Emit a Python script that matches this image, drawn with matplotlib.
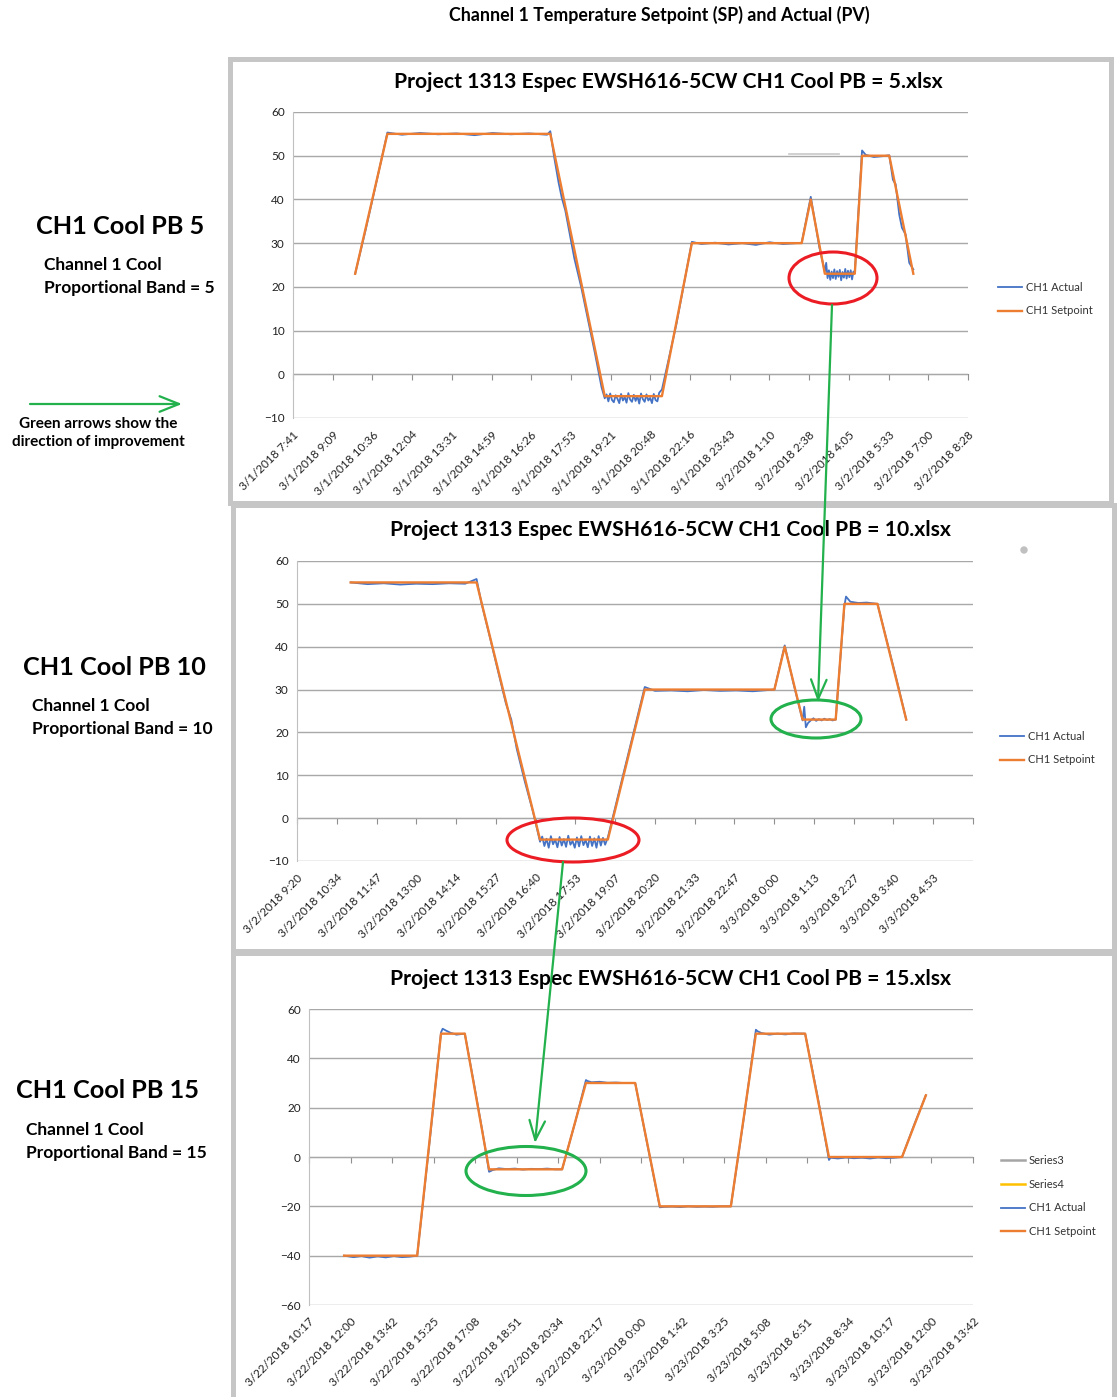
import matplotlib
matplotlib.use('Agg')
import matplotlib.pyplot as plt
from matplotlib.patches import Ellipse, Rectangle, FancyArrowPatch, Circle
from matplotlib.lines import Line2D

plt.rcParams['font.family'] = ['Lato', 'DejaVu Sans']

# times are minutes after the first x-axis label of each chart

# ---- chart 1 : CH1 Cool PB = 5 ----
p1_labels = ['3/1/2018 7:41', '3/1/2018 9:09', '3/1/2018 10:36', '3/1/2018 12:04',
             '3/1/2018 13:31', '3/1/2018 14:59', '3/1/2018 16:26', '3/1/2018 17:53',
             '3/1/2018 19:21', '3/1/2018 20:48', '3/1/2018 22:16', '3/1/2018 23:43',
             '3/2/2018 1:10', '3/2/2018 2:38', '3/2/2018 4:05', '3/2/2018 5:33',
             '3/2/2018 7:00', '3/2/2018 8:28']
p1_step = 87.5
sp1_t = [137, 208, 567, 687, 813, 879, 1121, 1141, 1172, 1238, 1254, 1314, 1367]
sp1_v = [23, 55, 55, -5, -5, 30, 30, 40, 23, 23, 50, 50, 23]
pv1_t = [137, 160, 185, 208, 240, 280, 320, 360, 400, 440, 480, 520, 560, 567,
         575, 585, 592, 600, 610, 620, 635, 650, 665, 680, 687,
         691, 695, 699, 703, 707, 711, 715, 719, 723, 727, 731, 735, 739, 743, 747,
         751, 755, 759, 763, 767, 771, 775, 779, 783, 787, 791, 795, 799, 803, 807,
         813, 845, 879, 900, 930, 960, 990, 1020, 1050, 1080, 1110, 1121, 1141,
         1160, 1172, 1175, 1178,
         1181, 1184, 1187, 1190, 1193, 1196, 1199, 1202, 1205, 1208, 1211, 1214,
         1217, 1220, 1223, 1226, 1229, 1232, 1235,
         1238, 1254, 1262, 1280, 1300, 1314,
         1322, 1328, 1336, 1342, 1350, 1358, 1367]
pv1_v = [23, 33, 44.5, 55.3, 54.8, 55.2, 54.9, 55.1, 54.7, 55.2, 54.9, 55.1, 54.8, 55.6,
         50, 44, 40.5, 37.5, 32, 26.5, 20, 12.5, 5, -3, -5.5,
         -4.6, -6.2, -4.4, -5.9, -6.4, -4.8, -5.6, -6.6, -4.5, -6.0, -5.2, -6.5, -4.3, -5.8, -6.3,
         -4.7, -6.1, -5.0, -6.7, -4.4, -5.7, -6.3, -4.6, -6.0, -5.4, -6.6, -4.5, -5.9, -6.2, -4.2,
         -3.5, 11.5, 30.3, 29.8, 30.1, 29.7, 30.0, 29.6, 30.2, 29.8, 30.0, 30.1, 40.6,
         29.0, 23.5, 25.5, 22.0,
         23.8, 21.6, 23.5, 22.0, 24.0, 21.8, 23.6, 22.3, 23.9, 21.5, 23.4, 22.1,
         24.1, 21.9, 23.7, 22.2, 23.8, 21.7, 23.5,
         23.2, 51.2, 50.2, 49.7, 49.9, 50.1,
         44.5, 43.5, 36.5, 33.5, 32, 25.5, 24]
stray1_t = [1094, 1203]
stray1_v = [50.3, 50.3]

# ---- chart 2 : CH1 Cool PB = 10 ----
p2_labels = ['3/2/2018 9:20', '3/2/2018 10:34', '3/2/2018 11:47', '3/2/2018 13:00',
             '3/2/2018 14:14', '3/2/2018 15:27', '3/2/2018 16:40', '3/2/2018 17:53',
             '3/2/2018 19:07', '3/2/2018 20:20', '3/2/2018 21:33', '3/2/2018 22:47',
             '3/3/2018 0:00', '3/3/2018 1:13', '3/3/2018 2:27', '3/3/2018 3:40',
             '3/3/2018 4:53', '']
p2_step = 73.3
sp2_t = [99, 331, 448, 573, 641, 880, 899, 932, 993, 1009, 1070, 1123]
sp2_v = [55, 55, -5, -5, 30, 30, 40, 23, 23, 50, 50, 23]
pv2_t = [99, 130, 160, 190, 220, 250, 280, 310, 331,
         340, 355, 370, 385, 395, 405, 420, 435, 448,
         452, 456, 460, 464, 468, 472, 476, 480, 484, 488, 492, 496, 500, 504, 508,
         512, 516, 520, 524, 528, 532, 536, 540, 544, 548, 552, 556, 560, 564, 568,
         573, 600, 641, 660, 690, 720, 750, 780, 810, 840, 870, 880, 899,
         915, 932, 935, 938,
         942, 947, 952, 957, 962, 967, 972, 977, 982, 987,
         993, 1009, 1012, 1020, 1035, 1050, 1070,
         1090, 1105, 1123]
pv2_v = [55.0, 54.6, 54.8, 54.5, 54.7, 54.6, 54.8, 54.7, 55.8,
         50.2, 42.5, 34.6, 26.8, 23.0, 16.2, 8.5, 1.5, -5.5,
         -4.3, -6.5, -4.8, -6.9, -4.2, -6.1, -5.0, -6.8, -4.4, -6.4, -4.9, -6.7, -4.1, -6.2, -5.3,
         -6.9, -4.5, -6.6, -4.2, -6.3, -5.1, -6.8, -4.3, -6.5, -4.7, -6.9, -4.2, -6.4, -4.6, -6.2,
         -4.5, 9.5, 30.6, 29.7, 29.8, 29.6, 29.9, 29.7, 29.8, 29.6, 29.9, 30.0, 40.3,
         31.5, 22.8, 26.0, 21.2,
         22.2, 22.8, 23.3, 22.7, 23.1, 22.8, 23.2, 22.9, 23.1, 22.8,
         23.0, 49.5, 51.7, 50.5, 50.2, 50.3, 50.0,
         40, 32.5, 23]

# ---- chart 3 : CH1 Cool PB = 15 ----
p3_labels = ['3/22/2018 10:17', '3/22/2018 12:00', '3/22/2018 13:42', '3/22/2018 15:25',
             '3/22/2018 17:08', '3/22/2018 18:51', '3/22/2018 20:34', '3/22/2018 22:17',
             '3/23/2018 0:00', '3/23/2018 1:42', '3/23/2018 3:25', '3/23/2018 5:08',
             '3/23/2018 6:51', '3/23/2018 8:34', '3/23/2018 10:17', '3/23/2018 12:00',
             '3/23/2018 13:42']
p3_step = 102.8
sp3_t = [87, 268, 327, 386, 446, 627, 686, 808, 869, 1045, 1107, 1229, 1288, 1469, 1528]
sp3_v = [-40, -40, 50, 50, -5, -5, 30, 30, -20, -20, 50, 50, 0, 0, 25]
pv3_t = [87, 110, 130, 150, 170, 190, 210, 230, 250, 268,
         300, 327, 331, 340, 350, 365, 386,
         410, 430, 446, 455, 470, 490, 510, 530, 550, 570, 590, 610, 627,
         660, 686, 690, 700, 720, 740, 760, 780, 808,
         840, 869, 880, 900, 920, 940, 960, 980, 1000, 1020, 1045,
         1080, 1107, 1111, 1120, 1140, 1160, 1180, 1200, 1229,
         1260, 1288, 1292, 1310, 1330, 1350, 1370, 1390, 1410, 1430, 1450, 1469,
         1500, 1528]
pv3_v = [-40.0, -40.6, -40.2, -40.8, -40.3, -40.7, -40.2, -40.6, -40.4, -40.0,
         8.0, 50.5, 52.0, 51.2, 50.4, 49.6, 50.0,
         28.5, 10, -6.0, -5.3, -4.6, -4.9, -4.7, -5.1, -4.8, -4.9, -4.7, -5.0, -5.0,
         14.5, 31.2, 30.8, 30.3, 30.5, 30.1, 30.2, 30.0, 30.0,
         3.5, -20.4, -20.2, -20.1, -20.3, -20.0, -20.2, -20.1, -20.2, -20.0, -20.0,
         19.0, 51.6, 51.0, 50.3, 49.6, 50.0, 49.7, 50.1, 50.0,
         24.5, -1.2, -0.3, -0.6, -0.2, -0.5, -0.3, -0.6, -0.2, -0.5, -0.3, 0.0,
         13.5, 25.0]

BLUE = '#4472C4'
ORANGE = '#ED7D31'
GREEN = '#22B14C'
RED = '#EC1C24'
FRAME = '#c6c6c6'

W, H = 1117, 1397
fig = plt.figure(figsize=(W / 100, H / 100), dpi=100)


def px(x, y):
    # pixel position (from top left) -> inches for fig.dpi_scale_trans
    return (x / 100, (H - y) / 100)


def ftext(x, y, s, **kw):
    fig.text(x / W, 1 - y / H, s, **kw)


def panel(box, labels, step, ylim, ystep, sp_t, sp_v, pv_t, pv_v, leg_x, leg_y, extra=False):
    l, t, r, b = box
    ax = fig.add_axes([l / W, 1 - b / H, (r - l) / W, (b - t) / H])
    ax.set_xlim(0, step * (len(labels) - 1))
    ax.set_ylim(*ylim)
    ax.set_yticks(range(ylim[0], ylim[1] + 1, ystep))
    ax.yaxis.grid(True, color='#a8a8a8', lw=1.0)
    ax.set_axisbelow(True)
    for s in ['top', 'right', 'bottom']:
        ax.spines[s].set_visible(False)
    ax.spines['left'].set_color('#c0c0c0')
    ticks = [i * step for i in range(len(labels))]
    ax.set_xticks(ticks)
    ax.set_xticklabels(labels, rotation=45, ha='right', rotation_mode='anchor')
    ax.tick_params(axis='x', length=0, pad=8, labelsize=8.5, labelcolor='#222222')
    ax.tick_params(axis='y', length=0, pad=6, labelsize=8.5, labelcolor='#222222')

    # horizontal axis line crosses at 0 with its tick marks
    zero = (0 - ylim[0]) / (ylim[1] - ylim[0])
    sec = ax.secondary_xaxis(zero)
    sec.set_xticks(ticks)
    sec.xaxis.set_ticks_position('bottom')
    sec.spines['bottom'].set_visible(True)
    sec.spines['top'].set_visible(False)
    sec.spines['bottom'].set_color('#909090')
    sec.tick_params(axis='x', direction='out', length=4, color='#909090',
                    labelbottom=False, labeltop=False)

    handles = []
    if extra:
        handles.append(Line2D([], [], color='#A5A5A5', lw=1.8, label='Series3'))
        handles.append(Line2D([], [], color='#FFC000', lw=1.8, label='Series4'))
    h1, = ax.plot(pv_t, pv_v, color=BLUE, lw=1.3, label='CH1 Actual')
    h2, = ax.plot(sp_t, sp_v, color=ORANGE, lw=1.7, label='CH1 Setpoint')
    handles += [h1, h2]
    ax.legend(handles=handles, loc='center left',
              bbox_to_anchor=(leg_x / W, 1 - leg_y / H), bbox_transform=fig.transFigure,
              frameon=False, fontsize=8, handlelength=2.2, handletextpad=0.3,
              labelspacing=1.15, borderaxespad=0, borderpad=0, labelcolor='#333333')
    return ax


# chart frames
for x0, y0, x1, y1 in [(229.5, 58.5, 1111, 503), (233, 505, 1113.5, 951), (233, 952.5, 1114, 1405)]:
    (a, bb) = px(x0, y1)
    fig.add_artist(Rectangle((a, bb), (x1 - x0) / 100, (y1 - y0) / 100, transform=fig.dpi_scale_trans,
                             fill=False, edgecolor=FRAME, lw=3.6, zorder=0.5))

ax1 = panel((293, 112, 968, 418), p1_labels, p1_step, (-10, 60), 10,
            sp1_t, sp1_v, pv1_t, pv1_v, 998, 299)
ax1.plot(stray1_t, stray1_v, color='#c8c8c8', lw=1.2, zorder=1)
ax2 = panel((297, 561, 973, 861), p2_labels, p2_step, (-10, 60), 10,
            sp2_t, sp2_v, pv2_t, pv2_v, 1000, 748)
ax3 = panel((309, 1009, 973, 1305), p3_labels, p3_step, (-60, 60), 20,
            sp3_t, sp3_v, pv3_t, pv3_v, 1001, 1196, extra=True)

# titles
ftext(659, 15, 'Channel 1 Temperature Setpoint (SP) and Actual (PV)', ha='center', va='center',
      fontsize=12.8, fontweight='bold')
ftext(668, 82, 'Project 1313 Espec EWSH616-5CW CH1 Cool PB = 5.xlsx', ha='center', va='center',
      fontsize=15.2, fontweight='bold')
ftext(670, 530, 'Project 1313 Espec EWSH616-5CW CH1 Cool PB = 10.xlsx', ha='center', va='center',
      fontsize=15.2, fontweight='bold')
ftext(671, 979, 'Project 1313 Espec EWSH616-5CW CH1 Cool PB = 15.xlsx', ha='center', va='center',
      fontsize=15.2, fontweight='bold')

# left side notes
for cx, cy, lx, pb in [(120, 226, 44, '5'), (114, 667, 32, '10'), (107, 1091, 26, '15')]:
    ftext(cx, cy, 'CH1 Cool PB ' + pb, ha='center', va='center', fontsize=18.2, fontweight='bold')
    ftext(lx, cy + 39, 'Channel 1 Cool', ha='left', va='center', fontsize=12.5, fontweight='bold')
    ftext(lx, cy + 62, 'Proportional Band = ' + pb, ha='left', va='center', fontsize=12.5,
          fontweight='bold')

ftext(98, 424, 'Green arrows show the', ha='center', va='center', fontsize=11, fontweight='bold')
ftext(98, 442, 'direction of improvement', ha='center', va='center', fontsize=11, fontweight='bold')


def arrow(p0, p1, color=GREEN):
    fig.add_artist(FancyArrowPatch(px(*p0), px(*p1), transform=fig.dpi_scale_trans,
                                   arrowstyle='->,head_length=0.7,head_width=0.28',
                                   mutation_scale=20, color=color, lw=1.6,
                                   shrinkA=0, shrinkB=0, zorder=5))


def ring(cx, cy, w, h, color):
    fig.add_artist(Ellipse(px(cx, cy), w / 100, h / 100, transform=fig.dpi_scale_trans,
                           fill=False, edgecolor=color, lw=2.2, zorder=5))


arrow((30, 404), (182, 404))
ring(833, 278, 88, 52, RED)
ring(573, 840, 132, 44, RED)
ring(816, 719, 90, 38, GREEN)
ring(526, 1171, 120, 49, GREEN)
arrow((832, 305), (818, 702))
arrow((563, 862), (535, 1143))
fig.add_artist(Circle(px(1024, 550), 0.03, transform=fig.dpi_scale_trans, color='#c0c0c0', zorder=5))

fig.savefig('out.png', dpi=100, facecolor='white')
